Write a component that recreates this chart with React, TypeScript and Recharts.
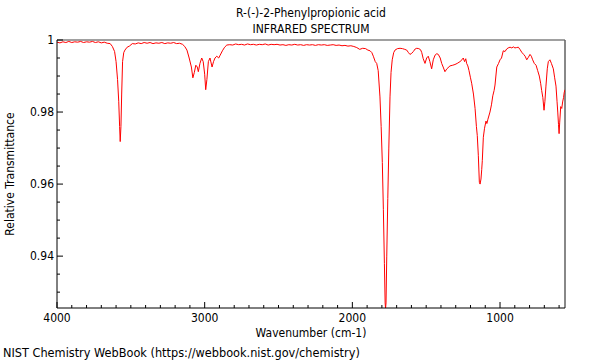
import { LineChart, Line, XAxis, YAxis, ReferenceLine } from "recharts"

// spectrum (cm-1 vs relative transmittance)
const wavenumbers = [
  4000, 3980, 3960, 3940, 3920, 3900, 3880, 3860, 3840, 3820, 3800, 3780, 3760, 3740, 3720, 3700, 3680, 3660, 3640,
  3625, 3610, 3600, 3590, 3582, 3576, 3572, 3567, 3562, 3556, 3548, 3540, 3525, 3510, 3490, 3470, 3450, 3430, 3410,
  3390, 3370, 3350, 3330, 3310, 3290, 3270, 3250, 3230, 3210, 3190, 3170, 3150, 3135, 3120, 3105, 3090, 3080, 3070,
  3060, 3050, 3043, 3032, 3020, 3010, 3000, 2993, 2985, 2975, 2964, 2950, 2940, 2930, 2918, 2905, 2895, 2880, 2865,
  2850, 2830, 2810, 2790, 2770, 2750, 2730, 2710, 2690, 2670, 2650, 2630, 2610, 2590, 2570, 2550, 2530, 2510, 2490,
  2470, 2450, 2430, 2410, 2390, 2370, 2350, 2330, 2310, 2290, 2270, 2250, 2230, 2210, 2190, 2170, 2150, 2130, 2110,
  2090, 2070, 2050, 2030, 2010, 1990, 1970, 1950, 1930, 1910, 1895, 1880, 1868, 1858, 1845, 1835, 1825, 1813, 1805,
  1797, 1790, 1783, 1778, 1775, 1772, 1767, 1760, 1753, 1745, 1738, 1730, 1720, 1711, 1695, 1677, 1660, 1645, 1632,
  1620, 1610, 1598, 1587, 1575, 1564, 1550, 1538, 1530, 1520, 1508, 1497, 1486, 1475, 1463, 1452, 1440, 1428, 1418,
  1405, 1395, 1385, 1373, 1360, 1339, 1320, 1305, 1290, 1271, 1258, 1249, 1240, 1232, 1226, 1218, 1210, 1200, 1192,
  1180, 1169, 1160, 1154, 1147, 1140, 1135, 1129, 1124, 1120, 1113, 1105, 1095, 1089, 1082, 1068, 1058, 1049, 1040,
  1034, 1028, 1022, 1010, 1000, 990, 978, 966, 955, 945, 932, 920, 910, 899, 888, 876, 865, 853, 840, 830, 819, 808,
  797, 788, 779, 768, 756, 745, 734, 725, 718, 710, 702, 696, 689, 680, 673, 662, 652, 639, 630, 621, 614, 609, 604,
  600, 596, 589, 582, 576, 570, 565, 560,
]

const transmittance = [
  0.9994, 0.9992, 0.9995, 0.9993, 0.9996, 0.9993, 0.9995, 0.9994, 0.9996, 0.9993, 0.9995, 0.9994, 0.9996, 0.9993,
  0.9995, 0.9992, 0.9994, 0.9991, 0.999, 0.9982, 0.9968, 0.994, 0.989, 0.983, 0.976, 0.9718, 0.976, 0.985, 0.994,
  0.9965, 0.9972, 0.998, 0.9983, 0.999, 0.9989, 0.9992, 0.999, 0.9993, 0.9991, 0.9993, 0.999, 0.9992, 0.9991,
  0.9993, 0.999, 0.9992, 0.9991, 0.9993, 0.999, 0.9991, 0.9988, 0.9982, 0.9972, 0.995, 0.9925, 0.9895, 0.991, 0.993,
  0.9925, 0.9912, 0.9935, 0.995, 0.994, 0.9905, 0.9862, 0.989, 0.994, 0.995, 0.9925, 0.994, 0.995, 0.9955, 0.995,
  0.9958, 0.997, 0.998, 0.9986, 0.9987, 0.9986, 0.9989, 0.9987, 0.9988, 0.9986, 0.9989, 0.9987, 0.9988, 0.9986,
  0.9988, 0.9987, 0.9989, 0.9986, 0.9988, 0.9987, 0.9988, 0.9986, 0.9987, 0.9985, 0.9987, 0.9986, 0.9988, 0.9986,
  0.9987, 0.9985, 0.9987, 0.9986, 0.9987, 0.9985, 0.9987, 0.9986, 0.9987, 0.9985, 0.9986, 0.9987, 0.9985, 0.9986,
  0.9984, 0.9985, 0.9983, 0.9984, 0.9982, 0.9979, 0.9974, 0.9977, 0.9976, 0.9972, 0.997, 0.9965, 0.9955, 0.994,
  0.9935, 0.9915, 0.9842, 0.976, 0.966, 0.953, 0.938, 0.927, 0.9255, 0.927, 0.94, 0.956, 0.97, 0.9842, 0.991,
  0.9945, 0.9965, 0.9972, 0.9976, 0.9977, 0.9976, 0.9974, 0.9972, 0.9965, 0.996, 0.9963, 0.9968, 0.9975, 0.9977,
  0.9976, 0.9973, 0.9965, 0.9948, 0.9935, 0.995, 0.9955, 0.994, 0.992, 0.9945, 0.9958, 0.9962, 0.996, 0.995, 0.9935,
  0.9925, 0.9912, 0.992, 0.9928, 0.993, 0.9932, 0.9935, 0.994, 0.9945, 0.995, 0.994, 0.9948, 0.9935, 0.9928, 0.9915,
  0.9895, 0.988, 0.985, 0.981, 0.976, 0.9735, 0.968, 0.9605, 0.96, 0.9614, 0.964, 0.9665, 0.973, 0.9755, 0.9775,
  0.9768, 0.978, 0.98, 0.982, 0.9845, 0.986, 0.9875, 0.99, 0.9925, 0.9935, 0.9945, 0.995, 0.997, 0.9968, 0.9975,
  0.9978, 0.998, 0.9978, 0.9981, 0.9978, 0.9979, 0.998, 0.9974, 0.9966, 0.996, 0.9955, 0.9945, 0.9952, 0.996,
  0.9955, 0.9945, 0.9935, 0.993, 0.9915, 0.99, 0.988, 0.986, 0.984, 0.9805, 0.983, 0.9872, 0.992, 0.994, 0.9945,
  0.9935, 0.992, 0.9895, 0.9872, 0.983, 0.98, 0.9765, 0.974, 0.977, 0.9815, 0.981, 0.9828, 0.984, 0.9855, 0.9862,
]

const xTicks = [
  4000, 3900, 3800, 3700, 3600, 3500, 3400, 3300, 3200, 3100, 3000, 2900, 2800, 2700, 2600, 2500, 2400, 2300, 2200,
  2100, 2000, 1900, 1800, 1700, 1600, 1500, 1400, 1300, 1200, 1100, 1000, 900, 800, 700, 600,
]
const xLabels = [4000, 3000, 2000, 1000]
const yTicks = [0.93, 0.935, 0.94, 0.945, 0.95, 0.955, 0.96, 0.965, 0.97, 0.975, 0.98, 0.985, 0.99, 0.995, 1]
const yLabels = [0.94, 0.96, 0.98, 1]

const data = wavenumbers.map((wn, i) => ({ wn, t: transmittance[i] }))

const font = "'DejaVu Sans Condensed', 'DejaVu Sans', sans-serif"

function XTick({ x, y, payload }: any) {
  const major = xLabels.includes(payload.value)
  return (
    <g>
      <line x1={x} x2={x} y1={y} y2={y - (major ? 6 : 3)} stroke="#000" />
      {major && (
        <text x={x} y={y + 14} textAnchor="middle" fontSize={12} fontFamily={font} fill="#000">
          {payload.value}
        </text>
      )}
    </g>
  )
}

function YTick({ x, y, payload }: any) {
  const major = yLabels.some((v) => Math.abs(v - payload.value) < 1e-6)
  return (
    <g>
      <line x1={x} x2={x + (major ? 6 : 3)} y1={y} y2={y} stroke="#000" />
      {major && (
        <text x={x - 3} y={y + 4} textAnchor="end" fontSize={12} fontFamily={font} fill="#000">
          {payload.value === 1 ? "1" : payload.value.toFixed(2)}
        </text>
      )}
    </g>
  )
}

export default function App() {
  return (
    <div style={{ position: "absolute", left: 0, top: 0, width: 600, height: 360, background: "#fff", fontFamily: font }}>
      <div style={{ position: "absolute", top: 5, left: 0, width: 622, textAlign: "center", fontSize: 12, lineHeight: "16px" }}>
        R-(-)-2-Phenylpropionic acid
        <br />
        INFRARED SPECTRUM
      </div>
      <LineChart width={600} height={360} data={data} margin={{ top: 40, right: 35, bottom: 22, left: 0 }}>
        <XAxis
          dataKey="wn"
          type="number"
          domain={[560, 4000]}
          reversed
          ticks={xTicks}
          interval={0}
          tickSize={0}
          tickMargin={0}
          tick={<XTick />}
          axisLine={{ stroke: "#000" }}
          height={30}
          allowDataOverflow
        />
        <YAxis
          type="number"
          domain={[0.9256, 1]}
          ticks={yTicks}
          interval={0}
          tickSize={0}
          tickMargin={0}
          tick={<YTick />}
          axisLine={{ stroke: "#000" }}
          width={57}
          allowDataOverflow
        />
        <ReferenceLine y={1} stroke="#a0a0a0" strokeWidth={2} />
        <ReferenceLine x={560} stroke="#606060" strokeWidth={1.5} />
        <Line dataKey="t" type="linear" stroke="#ff0000" strokeWidth={1} dot={false} isAnimationActive={false} />
      </LineChart>
      <div style={{ position: "absolute", top: 326, left: 0, width: 622, textAlign: "center", fontSize: 12, lineHeight: "14px" }}>
        Wavenumber (cm-1)
      </div>
      <div
        style={{
          position: "absolute",
          left: 10,
          top: 174,
          transform: "translate(-50%, -50%) rotate(-90deg)",
          whiteSpace: "nowrap",
          fontSize: 12,
          lineHeight: "14px",
        }}
      >
        Relative Transmittance
      </div>
      <div style={{ position: "absolute", top: 345, left: 3, fontSize: 12.6, lineHeight: "15px", whiteSpace: "nowrap" }}>
        NIST Chemistry WebBook (https://webbook.nist.gov/chemistry)
      </div>
    </div>
  )
}
